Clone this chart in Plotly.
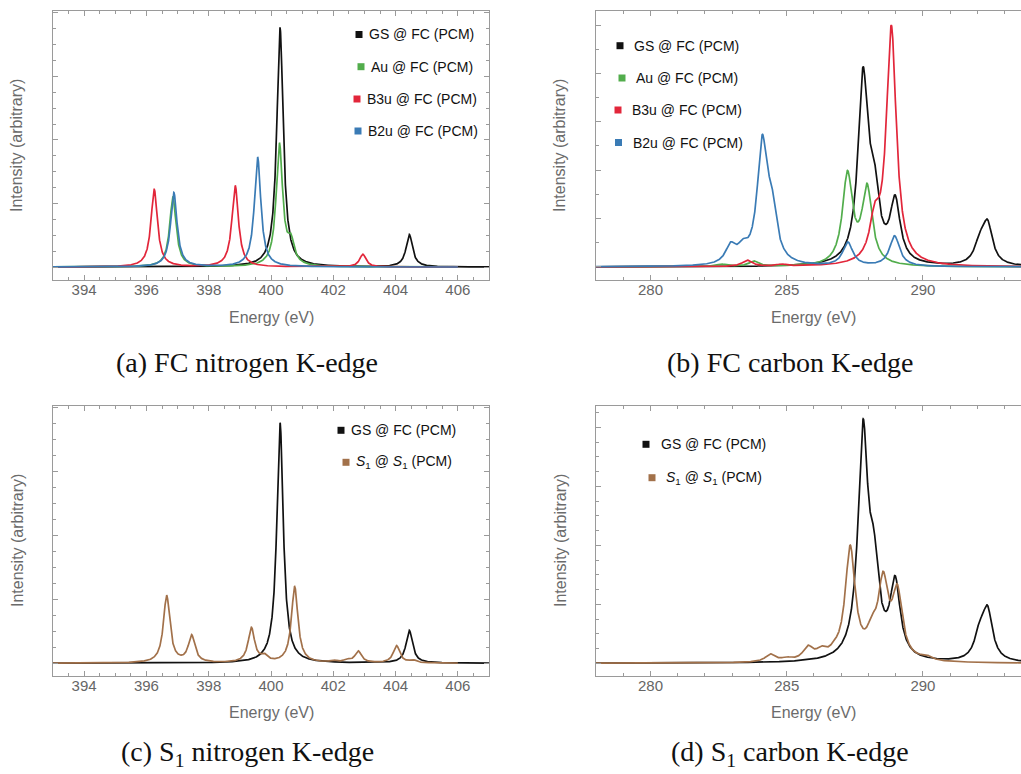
import numpy as np
import plotly.graph_objects as go

# ---------------------------------------------------------------------------
# Stick spectra: transition energies (eV) and peak intensities (arbitrary units)
# ---------------------------------------------------------------------------
# Nitrogen K-edge, FC geometry
n_gs_e = [400.29, 404.44]
n_gs_i = [3.76, 0.51]
n_au_e = [396.85, 400.27, 400.64]
n_au_i = [1.10, 1.92, 0.33]
n_b3u_e = [396.25, 398.85, 402.95]
n_b3u_i = [1.22, 1.28, 0.20]
n_b2u_e = [396.88, 399.57]
n_b2u_i = [1.17, 1.73]
# Nitrogen K-edge, S1 geometry
n_s1_e = [396.65, 397.45, 399.37, 399.78, 400.76, 402.0, 402.45, 402.8, 404.03, 404.56]
n_s1_i = [1.05, 0.42, 0.54, 0.09, 1.19, 0.03, 0.04, 0.18, 0.27, 0.04]

# Carbon K-edge, FC geometry
c_gs_e = [287.80, 288.20, 288.98, 292.08, 292.37]
c_gs_i = [3.79, 1.30, 1.26, 0.40, 0.82]
c_au_e = [282.60, 283.80, 287.23, 287.95]
c_au_i = [0.05, 0.11, 1.86, 1.57]
c_b3u_e = [283.55, 284.80, 288.23, 288.84]
c_b3u_i = [0.13, 0.04, 0.77, 4.91]
c_b2u_e = [282.94, 283.38, 284.10, 284.45, 287.24, 288.96]
c_b2u_i = [0.36, 0.26, 2.42, 0.97, 0.49, 0.63]
# Carbon K-edge, S1 geometry
c_s1_e = [284.40, 285.00, 285.78, 286.27, 286.75, 287.33, 288.13, 288.54, 289.06, 290.13]
c_s1_i = [0.13, 0.05, 0.22, 0.14, 0.08, 1.90, 0.35, 1.25, 1.10, 0.06]

# Lorentzian half widths (eV)
HWHM_N = 0.125
HWHM_C = 0.22

# Axis tick values
n_ticks = [394, 396, 398, 400, 402, 404, 406]
c_ticks = [280, 285, 290]

# Legend labels
fc_labels = ["GS @ FC (PCM)", "Au @ FC (PCM)", "B3u @ FC (PCM)", "B2u @ FC (PCM)"]
s1_labels = ["GS @ FC (PCM)", "<i>S</i><sub>1</sub> @ <i>S</i><sub>1</sub> (PCM)"]

captions = ["(a) FC nitrogen K-edge", "(b) FC carbon K-edge",
            "(c) S<sub>1</sub> nitrogen K-edge", "(d) S<sub>1</sub> carbon K-edge"]

BLACK, GREEN, RED, BLUE, BROWN = "#111111", "#52AD4C", "#E2263A", "#3A7BB5", "#A2714A"


def broaden(grid, energies, heights, hwhm):
    e = np.asarray(energies)[:, None]
    h = np.asarray(heights)[:, None]
    return (h * hwhm ** 2 / ((grid[None, :] - e) ** 2 + hwhm ** 2)).sum(axis=0)


grid_n = np.arange(393.0, 407.0001, 0.004)
grid_n_exc = np.arange(393.0, 406.0001, 0.004)
grid_c = np.arange(278.0, 294.0001, 0.004)

W, H = 1021, 774


def xd(l, r):
    return [l / W, min(r / W, 1.0)]


def yd(t, b):
    return [1 - b / H, 1 - t / H]


fig = go.Figure()

panels = {
    "a": ("x", "y"),
    "b": ("x2", "y2"),
    "c": ("x3", "y3"),
    "d": ("x4", "y4"),
}


def add_line(panel, x, y, color):
    xa, ya = panels[panel]
    fig.add_trace(go.Scatter(x=x, y=y, mode="lines", xaxis=xa, yaxis=ya,
                             line=dict(color=color, width=1.7), showlegend=False,
                             hoverinfo="skip"))


# (a) FC nitrogen
add_line("a", grid_n, broaden(grid_n, n_gs_e, n_gs_i, HWHM_N), BLACK)
add_line("a", grid_n_exc, broaden(grid_n_exc, n_au_e, n_au_i, HWHM_N), GREEN)
add_line("a", grid_n_exc, broaden(grid_n_exc, n_b3u_e, n_b3u_i, HWHM_N), RED)
add_line("a", grid_n_exc, broaden(grid_n_exc, n_b2u_e, n_b2u_i, HWHM_N), BLUE)
# (b) FC carbon
add_line("b", grid_c, broaden(grid_c, c_gs_e, c_gs_i, HWHM_C), BLACK)
add_line("b", grid_c, broaden(grid_c, c_au_e, c_au_i, HWHM_C), GREEN)
add_line("b", grid_c, broaden(grid_c, c_b3u_e, c_b3u_i, HWHM_C), RED)
add_line("b", grid_c, broaden(grid_c, c_b2u_e, c_b2u_i, HWHM_C), BLUE)
# (c) S1 nitrogen
add_line("c", grid_n, broaden(grid_n, n_gs_e, n_gs_i, HWHM_N), BLACK)
add_line("c", grid_n_exc, broaden(grid_n_exc, n_s1_e, n_s1_i, HWHM_N), BROWN)
# (d) S1 carbon
add_line("d", grid_c, broaden(grid_c, c_gs_e, c_gs_i, HWHM_C), BLACK)
add_line("d", grid_c, broaden(grid_c, c_s1_e, c_s1_i, HWHM_C), BROWN)

FRAME = "#9a9a9a"
TICKFONT = dict(family="Liberation Sans, Arial, sans-serif", size=15, color="#666666")


def xaxis(dom, rng, ticks, minor, anchor, mirror):
    return dict(domain=dom, range=rng, anchor=anchor, tickvals=ticks,
                ticks="inside", ticklen=5, tickcolor=FRAME, tickwidth=1,
                minor=dict(dtick=minor, tick0=ticks[0], ticks="inside", ticklen=3,
                           tickcolor=FRAME, tickwidth=1, showgrid=False),
                showline=True, linecolor=FRAME, linewidth=1, mirror=mirror,
                showgrid=False, zeroline=False, tickfont=TICKFONT,
                ticklabelstandoff=-4, fixedrange=True)


def yaxis(dom, rng, minor, anchor, mirror):
    return dict(domain=dom, range=rng, anchor=anchor, dtick=1, tick0=0,
                ticks="inside", ticklen=5, tickcolor=FRAME, tickwidth=1,
                minor=dict(dtick=minor, tick0=0, ticks="inside", ticklen=3,
                           tickcolor=FRAME, tickwidth=1, showgrid=False),
                showline=True, linecolor=FRAME, linewidth=1, mirror=mirror,
                showgrid=False, zeroline=False, showticklabels=False,
                fixedrange=True)


fig.update_layout(
    width=W, height=H, autosize=False,
    margin=dict(l=0, r=0, t=0, b=0),
    paper_bgcolor="white", plot_bgcolor="white",
    xaxis=xaxis(xd(53, 489), [393, 407], n_ticks, 0.5, "y", "allticks"),
    yaxis=yaxis(yd(11, 280), [-0.204, 4.03], 0.25, "x", "allticks"),
    xaxis2=xaxis(xd(596, 1021), [278, 293.6], c_ticks, 1, "y2", "allticks"),
    yaxis2=yaxis(yd(11, 280), [-0.27, 5.29], 0.5, "x2", False),
    xaxis3=xaxis(xd(53, 489), [393, 407], n_ticks, 0.5, "y3", "allticks"),
    yaxis3=yaxis(yd(406, 676), [-0.2, 4.02], 0.25, "x3", "allticks"),
    xaxis4=xaxis(xd(596, 1021), [278, 293.6], c_ticks, 1, "y4", "allticks"),
    yaxis4=yaxis(yd(406, 676), [-0.215, 4.36], 0.25, "x4", False),
    showlegend=False,
)

annotations = []
shapes = []

TITLEFONT = dict(family="Liberation Sans, Arial, sans-serif", size=16, color="#6b6b6b")
LEGFONT = dict(family="Liberation Sans, Arial, sans-serif", size=14, color="#111111")
CAPFONT = dict(family="Liberation Serif, Times New Roman, serif", size=28, color="#111111")


def text(px, py, s, font, xanchor="center", angle=0):
    annotations.append(dict(x=px / W, y=1 - py / H, xref="paper", yref="paper",
                            text=s, showarrow=False, font=font, xanchor=xanchor,
                            yanchor="middle", textangle=angle))


# axis titles
for (ex, ey) in [(271, 317), (813, 317), (271, 712), (813, 712)]:
    text(ex, ey, "Energy (eV)", TITLEFONT)
for (ix, iy) in [(17, 146), (560, 146), (17, 541), (560, 541)]:
    text(ix, iy, "Intensity (arbitrary)", TITLEFONT, angle=-90)


def legend_item(sx, tx, py, color, label):
    s = 3.5
    shapes.append(dict(type="rect", xref="paper", yref="paper",
                       x0=(sx - s) / W, x1=(sx + s) / W,
                       y0=1 - (py + s) / H, y1=1 - (py - s) / H,
                       fillcolor=color, line=dict(width=0)))
    text(tx, py, label, LEGFONT, xanchor="left")


fc_colors = [BLACK, GREEN, RED, BLUE]
# legend (a)
for (sx, tx, py), lab, col in zip([(359, 367, 34.5), (361, 369, 66.7), (357, 365, 99), (358, 366, 131)],
                                  fc_labels, fc_colors):
    legend_item(sx, tx, py, col, lab)
# legend (b)
for (sx, tx, py), lab, col in zip([(620, 632, 45.7), (622, 634, 78), (618, 630, 110), (618.5, 631, 142.5)],
                                  fc_labels, fc_colors):
    legend_item(sx, tx, py, col, lab)
# legend (c)
for (sx, tx, py), lab, col in zip([(341, 349, 430.3), (346, 354, 462.3)], s1_labels, [BLACK, BROWN]):
    legend_item(sx, tx, py, col, lab)
# legend (d)
for (sx, tx, py), lab, col in zip([(646, 659, 444.3), (652, 664, 477.7)], s1_labels, [BLACK, BROWN]):
    legend_item(sx, tx, py, col, lab)

# sub-figure captions
for (cx, cy), cap in zip([(247, 362), (790, 362), (247, 753), (790, 753)], captions):
    text(cx, cy, cap, CAPFONT)

fig.update_layout(annotations=annotations, shapes=shapes)

fig.write_html("out.html", config=dict(displayModeBar=False))
